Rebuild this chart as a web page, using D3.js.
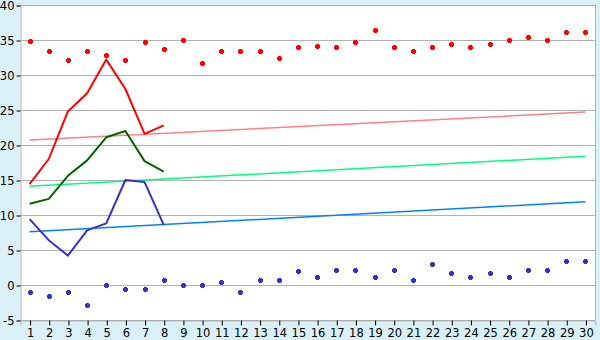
<!DOCTYPE html>
<html><head><meta charset="utf-8">
<script src="https://cdn.jsdelivr.net/npm/d3@7"></script>
<style>
html,body{margin:0;padding:0;background:#d9f0f6;}
svg{display:block;}
text{font-family:"DejaVu Sans",Verdana,sans-serif;font-size:11.5px;fill:#000;}
</style></head><body>
<svg id="c" width="600" height="340"></svg>
<script>
const categories = d3.range(1, 31).map(String);
const yTicks = [-5, 0, 5, 10, 15, 20, 25, 30, 35, 40];

const redLine   = [14.4, 18.0, 24.8, 27.4, 32.2, 28.0, 21.6, 22.8];
const greenLine = [11.6, 12.3, 15.6, 17.8, 21.1, 22.0, 17.7, 16.2];
const blueLine  = [9.4, 6.4, 4.2, 7.8, 8.8, 15.0, 14.7, 8.6];

const redDots = [34.8, 33.4, 32.2, 33.4, 32.8, 32.2, 34.7, 33.7, 35.0, 31.7,
                 33.5, 33.4, 33.4, 32.4, 34.0, 34.1, 34.0, 34.7, 36.4, 34.0,
                 33.4, 34.0, 34.4, 34.0, 34.4, 35.0, 35.4, 35.0, 36.1, 36.1];
const blueDots = [-1.0, -1.6, -1.0, -2.8, 0.0, -0.6, -0.6, 0.7, 0.0, 0.0,
                  0.4, -1.0, 0.7, 0.7, 2.0, 1.1, 2.2, 2.2, 1.1, 2.2,
                  0.7, 3.0, 1.7, 1.1, 1.7, 1.2, 2.1, 2.2, 3.4, 3.4];

const trendRed   = [20.7, 24.7];
const trendGreen = [14.1, 18.4];
const trendBlue  = [7.6, 11.9];
const trendCats  = ["1", "30"];

const svg = d3.select("#c");
const L = 20, R = 595, T = 5, B = 320;
const x = d3.scalePoint().domain(categories).range([L, R]).padding(0.5);
const y = d3.scaleLinear().domain([-5, 40]).range([B, T]);

svg.append("rect").attr("x", L).attr("y", T).attr("width", R - L).attr("height", B - T).attr("fill", "#fff");

// gridlines
svg.append("g").selectAll("line").data(yTicks).join("line")
  .attr("x1", L).attr("x2", R)
  .attr("y1", d => Math.round(y(d)) + 0.5).attr("y2", d => Math.round(y(d)) + 0.5)
  .attr("stroke", "#b0b0b0").attr("stroke-width", 1);
// right border
svg.append("line").attr("x1", R + 0.5).attr("x2", R + 0.5).attr("y1", T).attr("y2", B)
  .attr("stroke", "#b0b0b0");

// axes
const yAxis = d3.axisLeft(y).tickValues(yTicks).tickSize(4).tickPadding(2).tickFormat(d => String(d));
const gy = svg.append("g").attr("transform", `translate(${L + 0.5},0.5)`).call(yAxis);
gy.select(".domain").attr("stroke", "#b0b0b0");
gy.selectAll(".tick line").attr("stroke", "#000");
gy.selectAll("text").attr("font-family", null).attr("font-size", null).attr("dy", "0.36em");

const xAxis = d3.axisBottom(x).tickSize(5).tickPadding(3);
const gx = svg.append("g").attr("transform", `translate(0.5,${B + 0.5})`).call(xAxis);
gx.select(".domain").attr("stroke", "#b0b0b0");
gx.selectAll(".tick line").attr("stroke", "#000");
gx.selectAll("text").attr("font-family", null).attr("font-size", null);

// trend lines
const trendLine = d3.line().x((d, i) => x(trendCats[i])).y(d => y(d));
[[trendRed, "#ff8080"], [trendGreen, "#00ff80"], [trendBlue, "#0080ff"]].forEach(([d, c]) => {
  svg.append("path").attr("d", trendLine(d)).attr("fill", "none").attr("stroke", c).attr("stroke-width", 1.5);
});

// main lines
const line = d3.line().x((d, i) => x(categories[i])).y(d => y(d));
[[redLine, "#ff0000"], [greenLine, "#006400"], [blueLine, "#3333cc"]].forEach(([d, c]) => {
  svg.append("path").attr("d", line(d)).attr("fill", "none").attr("stroke", c)
    .attr("stroke-width", 2).attr("stroke-linejoin", "round");
});

// markers
function markers(data, color) {
  const g = svg.append("g").attr("fill", color).attr("shape-rendering", "crispEdges");
  data.forEach((v, i) => {
    const cx = Math.round(x(categories[i])), cy = Math.round(y(v));
    g.append("rect").attr("x", cx - 2).attr("y", cy - 1).attr("width", 5).attr("height", 3);
    g.append("rect").attr("x", cx - 1).attr("y", cy - 2).attr("width", 3).attr("height", 5);
  });
}
markers(redDots, "#ff0000");
markers(blueDots, "#3333cc");
</script>
</body></html>
